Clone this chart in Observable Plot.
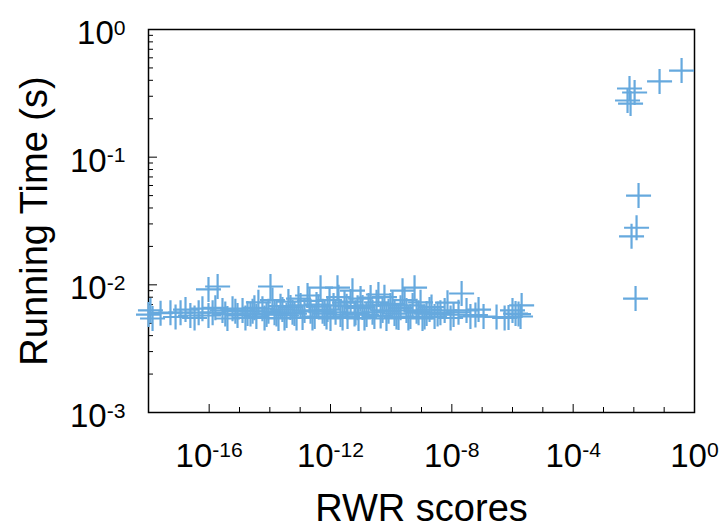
<!DOCTYPE html>
<html><head><meta charset="utf-8">
<script src="https://cdn.jsdelivr.net/npm/d3@7"></script>
<script src="https://cdn.jsdelivr.net/npm/@observablehq/plot@0.6"></script>
<style>body{margin:0;background:#fff}</style>
</head><body><div id="chart"></div>
<script>
// RWR scores (x) and running time in seconds (y)
const lowScores = [1.16e-18,1.36e-18,1.0e-18,5.3e-18,1.14e-17,2.4e-17,4.5e-17,6.0e-17,9.5e-17,1.9e-16,
  9.5e-17,1.3e-16,2.75e-16,4.0e-16,5.9e-16,8.6e-16,1.26e-15,1.84e-15,2.7e-15,3.6e-15,
  5.7e-15,7.8e-15,1.05e-14,1.43e-14,1.93e-14,2.6e-14,3.55e-14,4.8e-14,6.5e-14,8.8e-14,
  1.2e-13,1.75e-13,2.2e-13,3.0e-13,4.0e-13,4.7e-13,6.4e-13,8.0e-13,1.0e-12,1.26e-12,
  1.7e-12,2.14e-12,2.9e-12,3.64e-12,5.3e-12,6.7e-12,8.4e-12,1.14e-11,1.54e-11,2.1e-11,
  2.8e-11,3.8e-11,5.2e-11,7.0e-11,9.5e-11,1.29e-10,1.75e-10,2.37e-10,3.2e-10,4.3e-10,
  5.9e-10,8.0e-10,1.08e-9,1.47e-9,1.84e-9,2.7e-9,4.2e-9,7.2e-9,1.14e-8,2.1e-8,
  3.05e-8,4.1e-8,7.6e-8,1.11e-7,7.4e-7,1.26e-6,2.0e-6,1.84e-6];
const lowTimes = [6.3e-3,5.45e-3,5.85e-3,6.05e-3,6.05e-3,5.75e-3,6.05e-3,6.5e-3,9.2e-3,9.7e-3,
  5.75e-3,6.05e-3,6.3e-3,5.45e-3,6.5e-3,5.75e-3,6.3e-3,5.95e-3,6.2e-3,5.65e-3,
  6.5e-3,5.85e-3,9.7e-3,6.05e-3,5.45e-3,6.4e-3,5.75e-3,6.65e-3,5.95e-3,7.8e-3,
  5.55e-3,8.25e-3,6.2e-3,5.65e-3,6.75e-3,9.5e-3,5.95e-3,6.4e-3,5.45e-3,6.9e-3,
  9.5e-3,5.85e-3,7.25e-3,5.65e-3,9.0e-3,6.05e-3,5.45e-3,6.65e-3,5.85e-3,7.95e-3,
  5.65e-3,8.4e-3,6.3e-3,5.45e-3,6.9e-3,5.95e-3,5.55e-3,9.0e-3,6.3e-3,5.65e-3,
  9.5e-3,6.05e-3,5.45e-3,5.95e-3,6.4e-3,5.65e-3,6.05e-3,7.25e-3,5.85e-3,8.55e-3,
  6.3e-3,5.65e-3,6.4e-3,5.65e-3,5.55e-3,5.95e-3,6.9e-3,5.65e-3];
// second batch of low-score points filling the dense band
const midScores = [2.5e-18,7.8e-18,1.66e-17,3.3e-17,1.6e-16,3.4e-16,7.3e-16,1.57e-15,
  2.3e-15,3.1e-15,4.2e-15,6.7e-15,9.0e-15,1.22e-14,1.66e-14,2.25e-14,3.05e-14,4.1e-14,
  5.6e-14,7.6e-14,1.03e-13,1.39e-13,2.03e-13,2.55e-13,3.46e-13,5.5e-13,7.4e-13,9.3e-13,
  1.47e-12,1.84e-12,2.5e-12,3.4e-12,4.6e-12,6.2e-12,7.8e-12,9.8e-12,1.32e-11,1.8e-11,
  2.43e-11,3.3e-11,4.5e-11,6.0e-11,8.2e-11,1.11e-10,1.5e-10,2.04e-10,2.76e-10,3.7e-10,
  5.1e-10,6.9e-10,9.3e-10,1.26e-9,2.14e-9,3.4e-9,5.8e-9,9.1e-9,1.66e-8,6.0e-8,
  2.98e-7,5.5e-7,1.0e-6,1.58e-6];
const midTimes = [6.0e-3,5.6e-3,6.4e-3,5.5e-3,6.6e-3,5.9e-3,6.2e-3,5.5e-3,
  5.9e-3,6.6e-3,7.3e-3,5.5e-3,6.2e-3,7.6e-3,5.9e-3,6.8e-3,5.5e-3,7.4e-3,
  6.1e-3,5.5e-3,6.9e-3,6.3e-3,7.5e-3,5.5e-3,7.0e-3,6.2e-3,5.6e-3,7.6e-3,
  6.1e-3,8.0e-3,5.5e-3,6.8e-3,7.4e-3,5.9e-3,6.6e-3,7.8e-3,5.5e-3,6.9e-3,
  6.1e-3,7.3e-3,5.7e-3,8.0e-3,6.2e-3,7.1e-3,5.6e-3,6.6e-3,7.6e-3,5.5e-3,
  6.9e-3,6.2e-3,7.3e-3,5.6e-3,6.7e-3,5.9e-3,6.3e-3,5.5e-3,6.1e-3,5.8e-3,
  5.6e-3,5.5e-3,6.3e-3,5.9e-3];
const highScores = [0.375,0.0705,0.0072,0.0106,0.0062,0.0078,0.0143,0.0123,0.0084,0.0114];
const highTimes  = [0.477,0.392,0.345,0.321,0.278,0.263,0.050,0.028,0.024,0.0078];

const xMajorTicks = [1e-16,1e-12,1e-8,1e-4,1];
const xMinorTicks = [1e-15,1e-14,1e-13,1e-11,1e-10,1e-9,1e-7,1e-6,1e-5,1e-3,1e-2,1e-1];
const yMajorTicks = [1e-3,1e-2,1e-1,1];
const yMinorTicks = [2e-3,3e-3,4e-3,5e-3,6e-3,7e-3,8e-3,9e-3,
  2e-2,3e-2,4e-2,5e-2,6e-2,7e-2,8e-2,9e-2,
  0.2,0.3,0.4,0.5,0.6,0.7,0.8,0.9];
const xTitle = "RWR scores";
const yTitle = "Running Time (s)";
const markColor = "#66a9de";

const points = lowScores.map((x, i) => ({x, y: lowTimes[i]}))
  .concat(midScores.map((x, i) => ({x, y: midTimes[i]})))
  .concat(highScores.map((x, i) => ({x, y: highTimes[i]})));

const plusSymbol = {
  draw(ctx, size) {
    const r = Math.sqrt(size / Math.PI);
    ctx.moveTo(-r, 0); ctx.lineTo(r, 0);
    ctx.moveTo(0, -r); ctx.lineTo(0, r);
  }
};

const W = 725, H = 528, mL = 148, mR = 31, mT = 29, mB = 116;
const plotW = W - mL - mR, plotH = H - mT - mB;
const fmt = d => "10^" + Math.round(Math.log10(d));

const chart = Plot.plot({
  width: W, height: H,
  marginLeft: mL, marginRight: mR, marginTop: mT, marginBottom: mB,
  style: {fontFamily: "'Liberation Sans', Arial, Helvetica, sans-serif", color: "#000", background: "#fff"},
  x: {type: "log", domain: [1e-18, 1]},
  y: {type: "log", domain: [1e-3, 1]},
  marks: [
    Plot.axisX({ticks: xMajorTicks, tickFormat: fmt, tickSize: 0, tickPadding: 31, fontSize: 33,
      label: xTitle, labelAnchor: "center", labelOffset: 108, labelArrow: "none"}),
    Plot.axisY({ticks: yMajorTicks, tickFormat: fmt, tickSize: 0, tickPadding: 23, fontSize: 33, dy: 4,
      label: yTitle, labelAnchor: "center", labelOffset: 128, labelArrow: "none"}),
    Plot.ruleX(xMajorTicks, {x: d => d, insetTop: plotH - 8, stroke: "#000", strokeWidth: 1}),
    Plot.ruleX(xMinorTicks, {x: d => d, insetTop: plotH - 5, stroke: "#000", strokeWidth: 1}),
    Plot.ruleY(yMajorTicks, {y: d => d, insetRight: plotW - 9, stroke: "#000", strokeWidth: 1}),
    Plot.ruleY(yMinorTicks, {y: d => d, insetRight: plotW - 5, stroke: "#000", strokeWidth: 1}),
    Plot.frame({stroke: "#000", strokeWidth: 1.5}),
    Plot.dot(points, {x: "x", y: "y", symbol: plusSymbol, r: 12.5, fill: "none",
      stroke: markColor, strokeWidth: 2.2})
  ]
});

const ns = "http://www.w3.org/2000/svg";
chart.querySelectorAll('g[aria-label$="tick label"] text').forEach(t => {
  const parts = t.textContent.split("^");
  if (parts.length === 2) {
    t.textContent = parts[0];
    const ts = document.createElementNS(ns, "tspan");
    ts.setAttribute("dy", "-0.45em");
    ts.setAttribute("font-size", "0.64em");
    ts.textContent = parts[1];
    t.appendChild(ts);
  }
});
chart.querySelectorAll('g[aria-label$="-axis label"]').forEach(g => {
  g.setAttribute("font-size", 38);
  g.querySelectorAll("text").forEach(t => t.setAttribute("font-size", 38));
});
document.getElementById("chart").appendChild(chart);
</script>
</body></html>
